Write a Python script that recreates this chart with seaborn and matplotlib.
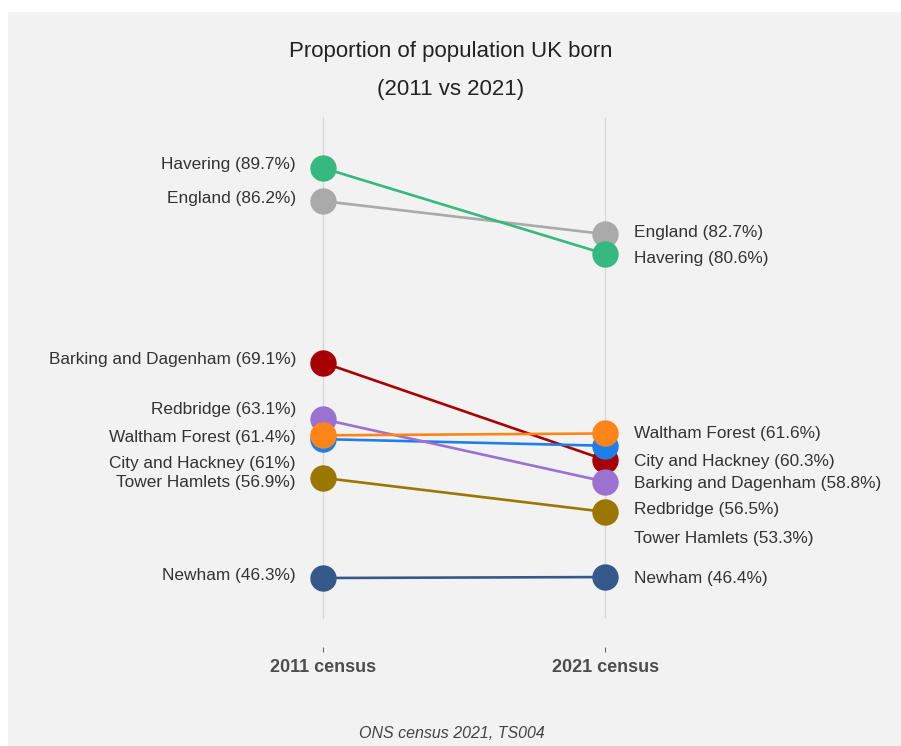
# Slope chart: proportion of population UK born, 2011 vs 2021

import pandas as pd
import matplotlib.pyplot as plt
import seaborn as sns
from matplotlib.patches import Rectangle

# data
areas = ['Barking and Dagenham', 'City and Hackney', 'England', 'Havering',
         'Newham', 'Redbridge', 'Tower Hamlets', 'Waltham Forest']
pct_2011 = [69.1, 61.0, 86.2, 89.7, 46.3, 63.1, 56.9, 61.4]
pct_2021 = [58.8, 60.3, 82.7, 80.6, 46.4, 56.5, 53.3, 61.6]
census_labels = ['2011 census', '2021 census']

# styling / layout
colors = ['#a80000', '#1f7fe8', '#aaaaaa', '#35b981',
          '#35598a', '#9b72cf', '#9c7700', '#ff8519']
# label nudges (in % units) so the names don't overlap
nudge_left = [0.3, -2.6, 0.27, 0.35, 0.25, 1.0, -0.45, -0.18]
nudge_right = [-2.5, -1.7, 0.15, -0.5, -0.15, -2.95, -2.85, -0.05]

rows = []
for i, a in enumerate(areas):
    rows.append({'area': a, 'x': 0, 'pct': pct_2011[i]})
    rows.append({'area': a, 'x': 1, 'pct': pct_2021[i]})
df = pd.DataFrame(rows)

sns.set_style('white')
plt.rcParams['font.family'] = ['Liberation Sans', 'DejaVu Sans']

fig = plt.figure(figsize=(9.01, 7.46), dpi=100, facecolor='white')
fig.patches.append(Rectangle((8 / 901, -0.01), 1, 734 / 746 + 0.01, transform=fig.transFigure,
                             facecolor='#f2f2f2', edgecolor='none', zorder=-5))
ax = fig.add_axes([41 / 901, 127 / 746, 849 / 901, 502 / 746])
ax.patch.set_alpha(0)

sns.lineplot(data=df, x='x', y='pct', hue='area', hue_order=areas,
             palette=dict(zip(areas, colors)), marker='o', markersize=19,
             markeredgewidth=0, linewidth=1.9, sort=False, legend=False, ax=ax)

ax.set_xlim(-1.0, 2.01)
ax.set_ylim(41.96, 95.1)

for x in [0, 1]:
    ax.axvline(x, color='#d6d6d6', linewidth=0.9, zorder=0)

for i, a in enumerate(areas):
    ax.annotate(f'{a} ({pct_2011[i]:g}%)', (0, pct_2011[i] + nudge_left[i]),
                xytext=(-19.5, 0), textcoords='offset points',
                ha='right', va='center', fontsize=12.4, color='#333333')
    ax.annotate(f'{a} ({pct_2021[i]:g}%)', (1, pct_2021[i] + nudge_right[i]),
                xytext=(21, 0), textcoords='offset points',
                ha='left', va='center', fontsize=12.4, color='#333333')

for s in ['top', 'right', 'left', 'bottom']:
    ax.spines[s].set_visible(False)
ax.spines['bottom'].set_position(('outward', 20))
ax.set_yticks([])
ax.set_xlabel('')
ax.set_ylabel('')
ax.set_xticks([0, 1])
ax.set_xticklabels(census_labels)
ax.tick_params(axis='x', bottom=True, direction='out', length=3.5, width=0.8,
               color='#666666', pad=5, labelsize=13, labelcolor='#4d4d4d')
for t in ax.get_xticklabels():
    t.set_fontweight('bold')

fig.text(0.5, 1 - 52 / 746, 'Proportion of population UK born', ha='center',
         va='center', fontsize=16, color='#222222')
fig.text(0.5, 1 - 89 / 746, '(2011 vs 2021)', ha='center', va='center',
         fontsize=16, color='#222222')
fig.text(0.502, 1 - 733 / 746, 'ONS census 2021, TS004', ha='center', va='center',
         fontsize=11.5, style='italic', color='#444444')

plt.savefig('out.png', dpi=100, facecolor=fig.get_facecolor())
